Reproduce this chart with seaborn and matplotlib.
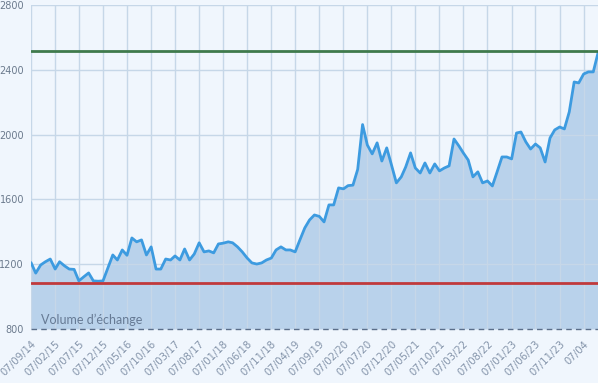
import matplotlib
matplotlib.use("Agg")
import matplotlib.pyplot as plt
import numpy as np
import pandas as pd
import seaborn as sns

# monthly values, 07/09/2014 -> 07/08/2024
volume = [
    1210, 1145, 1195, 1215, 1232, 1170, 1215, 1190, 1170, 1168,
    1097, 1122, 1146, 1097, 1095, 1097, 1177, 1257, 1226, 1288,
    1255, 1362, 1338, 1350, 1257, 1307, 1170, 1170, 1232, 1226,
    1251, 1226, 1294, 1226, 1263, 1332, 1276, 1282, 1270, 1325,
    1330, 1338, 1332, 1307, 1276, 1238, 1208, 1201, 1208, 1226,
    1238, 1288, 1307, 1288, 1288, 1276, 1350, 1424, 1473, 1504,
    1495, 1461, 1566, 1566, 1671, 1665, 1685, 1688, 1785, 2062,
    1936, 1881, 1949, 1837, 1918, 1813, 1702, 1739, 1800, 1887,
    1794, 1763, 1825, 1763, 1819, 1776, 1794, 1807, 1973, 1930,
    1887, 1843, 1739, 1770, 1702, 1714, 1683, 1770, 1862, 1862,
    1850, 2010, 2016, 1955, 1911, 1942, 1918, 1831, 1979, 2029,
    2047, 2035, 2140, 2325, 2319, 2374, 2387, 2387, 2504,
]
dates = pd.date_range("2014-09-01", periods=len(volume), freq="MS") + pd.Timedelta(days=6)

upper_level = 2518
lower_level = 1085

tick_dates = dates[::5]
tick_labels = [d.strftime("%d/%m/%y") for d in tick_dates]
tick_labels[-1] = "07/04"

df = pd.DataFrame({"date": dates, "volume": volume})

bg = "#f0f6fd"
sns.set_style("white")
plt.rcParams["font.family"] = ["DejaVu Sans"]

fig = plt.figure(figsize=(5.98, 3.83), dpi=100, facecolor=bg)
ax = fig.add_axes([31 / 598, 1 - 329 / 383, 567 / 598, 324 / 383])
ax.set_facecolor(bg)

ax.fill_between(df["date"], df["volume"], 800, color="#b3cfea", alpha=0.9, lw=0, zorder=2)
sns.lineplot(data=df, x="date", y="volume", ax=ax, color="#3d9be0", lw=2, zorder=4)

ax.axhline(upper_level, color="#3f7a4c", lw=2, zorder=5)
ax.axhline(lower_level, color="#c0393b", lw=2, zorder=5)
ax.axhline(801, color="#5a6e8a", lw=1, ls=(0, (4, 3)), zorder=6, clip_on=False)

ax.set_xlim(dates[0], dates[-1])
ax.set_ylim(800, 2800)
ax.set_yticks([800, 1200, 1600, 2000, 2400, 2800])
ax.set_xticks(tick_dates)
ax.set_xticklabels(tick_labels, rotation=45, ha="right", rotation_mode="anchor")
ax.tick_params(axis="x", labelsize=7.3, colors="#8494aa", length=0, pad=7)
ax.tick_params(axis="y", labelsize=7, colors="#6b7a8d", length=0, pad=5)
ax.grid(True, color="#c6d7e8", lw=1, zorder=3)
ax.set_axisbelow(False)
for s in ax.spines.values():
    s.set_visible(False)
ax.set_xlabel("")
ax.set_ylabel("")

ax.text(0.018, 0.008, "Volume d\u2019échange", transform=ax.transAxes,
        fontsize=9, color="#667a94", family="Lato", va="bottom", zorder=7)

fig.savefig("out.png", dpi=100, facecolor=bg)
